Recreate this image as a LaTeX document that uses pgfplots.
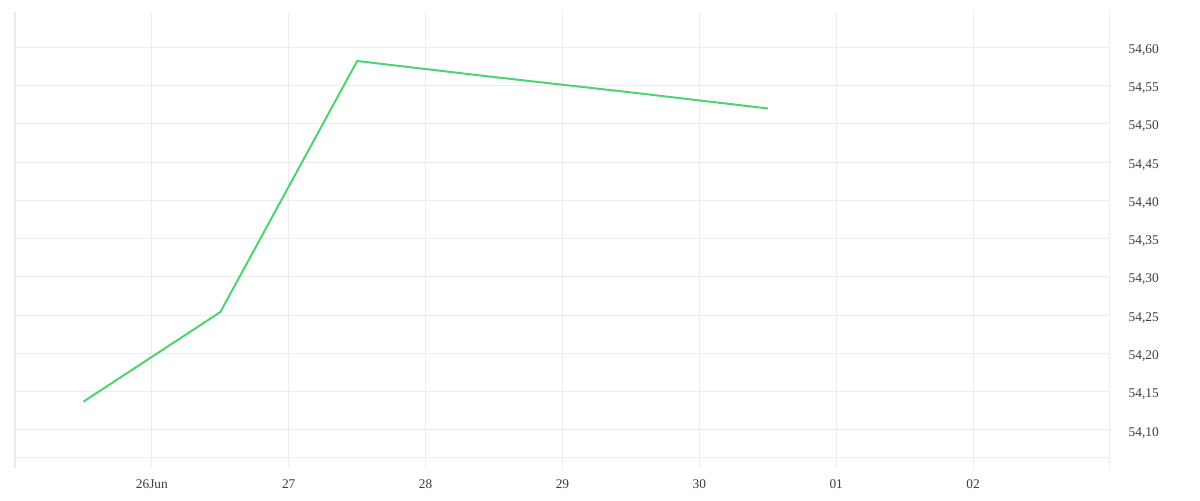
\documentclass[border=0pt]{standalone}
\usepackage{pgfplots}
\pgfplotsset{compat=1.18}
\usepackage{fontspec}
\setmainfont{Liberation Serif}
\definecolor{linegreen}{RGB}{76,212,115}
\definecolor{gridgray}{RGB}{236,236,236}
\definecolor{labelgray}{RGB}{60,60,60}
\begin{document}
\begin{tikzpicture}
\path[use as bounding box] (0pt,0pt) rectangle (900pt,375pt);
\begin{axis}[
  at={(11.25pt,31.5pt)}, anchor=south west,
  scale only axis,
  width=821.25pt, height=334.5pt,
  xmin=25, xmax=33,
  ymin=54.0634, ymax=54.646,
  axis line style={draw=none},
  xtick={25,26,27,28,29,30,31,32,33},
  xticklabels={,26Jun,27,28,29,30,01,02,},
  ytick={54.10,54.15,54.20,54.25,54.30,54.35,54.40,54.45,54.50,54.55,54.60},
  yticklabel pos=right,
  xtick pos=bottom,
  tick align=outside,
  major tick length=7.5pt,
  xtick style={draw=gridgray, line width=0.75pt},
  ytick style={draw=none},
  grid=major,
  major grid style={draw=gridgray, line width=0.75pt},
  ticklabel style={font=\fontsize{10}{12}\selectfont, text=labelgray},
  xticklabel style={yshift=-5pt},
  yticklabel style={anchor=west, xshift=3pt, yshift=-2pt},
  /pgf/number format/.cd, use comma, fixed, fixed zerofill, precision=2, assume math mode=true,
]
\addplot[draw=gridgray, line width=0.75pt, forget plot] coordinates {(25,54.0634)(33,54.0634)};
\addplot[color=linegreen, line width=1.5pt, mark=none] coordinates {
  (25.5,54.137)(26.5,54.254)(27.5,54.582)(28.5,54.561)(29.5,54.541)(30.5,54.520)
};
\end{axis}
\end{tikzpicture}
\end{document}
